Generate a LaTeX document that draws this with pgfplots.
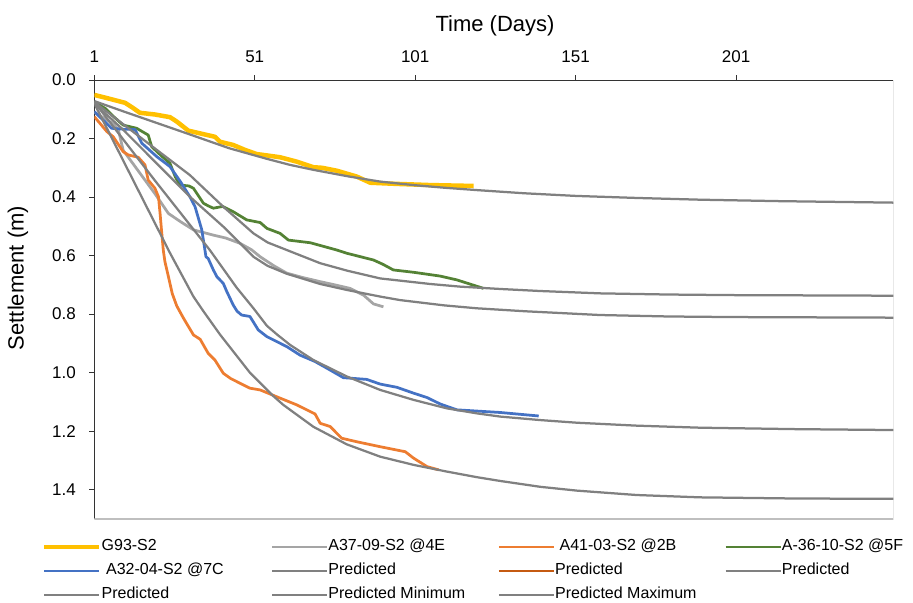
\documentclass[border=0pt]{standalone}
\usepackage{pgfplots}
\pgfplotsset{compat=1.18}
\usepackage{fontspec}
\setmainfont{Liberation Sans}
\definecolor{cYel}{HTML}{FFC000}
\definecolor{cLG}{HTML}{A5A5A5}
\definecolor{cOr}{HTML}{ED7D31}
\definecolor{cGr}{HTML}{548235}
\definecolor{cBl}{HTML}{4472C4}
\definecolor{cPr}{HTML}{808080}
\definecolor{cBr}{HTML}{C55A11}
\definecolor{cBord}{HTML}{BFBFBF}
\begin{document}
\begin{tikzpicture}
\path (0pt,0pt) rectangle (913pt,-600pt);
\begin{axis}[
  at={(94.3pt,-80pt)}, anchor=north west,
  scale only axis, width=799pt, height=439pt,
  xmin=1, xmax=250, ymin=0, ymax=1.5,
  y dir=reverse,
  axis x line*=top, axis y line*=left,
  axis line style={color=black!80, line width=1pt, -},
  xtick={1,51,101,151,201},
  ytick={0,0.2,0.4,0.6,0.8,1.0,1.2,1.4},
  tick label style={font=\fontsize{17}{20}\selectfont, color=black},
  xticklabel style={yshift=9pt},
  yticklabel style={xshift=-10pt, /pgf/number format/.cd, fixed, fixed zerofill, precision=1},
  /pgf/number format/assume math mode=true,
  tick align=outside, major tick length=5pt,
  tick style={color=black!80, line width=1pt},
  xlabel={Time (Days)}, ylabel={Settlement (m)},
  label style={font=\fontsize{22}{26}\selectfont},
  xlabel style={at={(axis description cs:0.5015,1.124)}, anchor=center},
  ylabel style={at={(axis description cs:-0.0955,0.549)}, anchor=center},
  legend columns=4,
  legend image code/.code={\draw[#1, line cap=butt] (0pt,0pt) -- (55pt,0pt);},
  legend style={draw=none, fill=none, at={(axis description cs:-0.0655,-0.045)}, anchor=north west,
    font=\fontsize{16}{19}\selectfont, inner xsep=0pt, inner ysep=0pt,
    nodes={inner sep=0pt, text height=12pt, text depth=4pt}, row sep=8pt,
    /tikz/every even column/.append style={column sep=7pt},
    /tikz/every odd column/.append style={column sep=0pt}},
  legend cell align=left,
  line join=round,
]
\draw[cBord, line width=1.2pt] (axis cs:250,0) -- (axis cs:250,1.5) -- (axis cs:1,1.5);
% G93-S2
\addplot[cYel, line width=4.5pt] coordinates {(1,0.051) (5,0.062) (10.6,0.078) (13,0.095) (15.2,0.112) (20,0.118) (24.6,0.127) (26.7,0.142) (30.3,0.173) (35,0.185) (38.6,0.194) (40.2,0.211) (44.3,0.222) (48,0.239) (51.6,0.253) (55,0.258) (58.9,0.264) (64.1,0.279) (69.3,0.298) (72,0.300) (76.6,0.310) (82.8,0.330) (87,0.351) (95.3,0.355) (105.7,0.359) (119.2,0.362)};
\addlegendentry{\makebox[162pt][l]{G93-S2}}
% A37
\addplot[cLG, line width=2.75pt] coordinates {(1,0.11) (4,0.13) (7,0.15) (8.5,0.17) (10,0.24) (12,0.27) (16,0.33) (20,0.39) (24.1,0.456) (28,0.485) (31.9,0.512) (38.1,0.530) (42,0.54) (46.4,0.558) (50,0.58) (52.7,0.604) (57,0.635) (61,0.660) (66,0.675) (71.4,0.689) (76,0.70) (80.7,0.712) (84.9,0.735) (88,0.765) (91.1,0.775)};
\addlegendentry{\makebox[162pt][l]{A37-09-S2 @4E}}
% A41
\addplot[cOr, line width=2.75pt] coordinates {(1,0.125) (4.9,0.176) (6.9,0.194) (10,0.245) (11.6,0.256) (14.7,0.264) (16.8,0.290) (17.8,0.342) (19.9,0.370) (21,0.399) (21.5,0.456) (22,0.52) (22.5,0.581) (23,0.62) (24.1,0.672) (25.3,0.73) (26.7,0.772) (28.8,0.814) (31.9,0.871) (34,0.886) (36.5,0.934) (38.6,0.957) (41.2,1.002) (43.5,1.02) (46.4,1.036) (49.5,1.053) (52.7,1.059) (58.9,1.087) (64.1,1.110) (69.8,1.141) (71.4,1.173) (74.5,1.184) (78.1,1.224) (82.8,1.236) (90.1,1.253) (97.9,1.270) (100.5,1.292) (104.7,1.321) (108.3,1.332)};
\addlegendentry{\makebox[162pt][l]{\hspace{4.5pt}A41-03-S2 @2B}}
% A-36
\addplot[cGr, line width=2.75pt] coordinates {(1,0.075) (4.4,0.097) (7,0.125) (10,0.154) (14.2,0.165) (17.8,0.188) (18.9,0.228) (22,0.26) (24.6,0.285) (26.2,0.33) (27.7,0.359) (30.5,0.362) (31.9,0.370) (35,0.421) (36.5,0.43) (38.1,0.438) (41,0.432) (44.3,0.450) (48.5,0.478) (52.7,0.487) (54.8,0.507) (58.9,0.524) (61.5,0.547) (68.3,0.556) (76.6,0.581) (79.7,0.592) (88,0.615) (91,0.63) (94.2,0.649) (100.5,0.657) (108.8,0.670) (114,0.683) (122.3,0.712)};
\addlegendentry{A-36-10-S2 @5F}
% A32
\addplot[cBl, line width=2.75pt] coordinates {(1,0.108) (6.4,0.165) (10,0.168) (13.7,0.169) (15.8,0.216) (20.5,0.262) (24.6,0.296) (28,0.35) (30.8,0.399) (32.4,0.433) (34.5,0.512) (35.8,0.604) (36.5,0.61) (38.1,0.649) (39.2,0.672) (41.2,0.695) (42.3,0.723) (44.3,0.769) (45.5,0.79) (46.9,0.803) (49.5,0.808) (52.1,0.854) (54.8,0.877) (61,0.911) (65.1,0.940) (69.8,0.962) (74.5,0.991) (78.6,1.017) (85.9,1.023) (90.1,1.039) (95.3,1.050) (100.5,1.070) (104.7,1.085) (108.8,1.107) (114,1.127) (127.5,1.136) (139.5,1.148)};
\addlegendentry{\makebox[162pt][l]{\hspace{4.5pt}A32-04-S2 @7C}}
% Predicted curves
\addplot[cPr, line width=2.25pt] coordinates {(1,0.072) (10,0.107) (20,0.145) (30,0.183) (43,0.233) (48.5,0.250) (55,0.270) (62,0.290) (69.3,0.307) (80,0.329) (90,0.347) (100.5,0.359) (110,0.368) (120,0.376) (135,0.387) (151,0.396) (170,0.403) (190,0.409) (215,0.414) (250,0.419)};
\addlegendentry{\makebox[162pt][l]{Predicted}}
\addlegendimage{cBr, line width=2.75pt}
\addlegendentry{\makebox[162pt][l]{Predicted}}
\addplot[cPr, line width=2.25pt] coordinates {(1,0.075) (10,0.151) (20.5,0.239) (30.8,0.325) (41.2,0.433) (50.6,0.524) (55,0.555) (61,0.581) (71.4,0.626) (80,0.652) (90.1,0.678) (100,0.690) (105.7,0.697) (115,0.706) (127.5,0.714) (140,0.721) (158.6,0.729) (180,0.733) (200,0.735) (250,0.737)};
\addlegendentry{Predicted}
\addplot[cPr, line width=2.25pt] coordinates {(1,0.08) (10,0.17) (20,0.28) (30.8,0.399) (41.2,0.501) (50.6,0.604) (55,0.635) (61,0.662) (71.4,0.697) (80,0.718) (90.1,0.740) (96.3,0.752) (110,0.770) (120.2,0.780) (135,0.790) (158.6,0.803) (180,0.808) (200,0.810) (250,0.812)};
\addlegendentry{\makebox[162pt][l]{Predicted}}
\addplot[cPr, line width=2.25pt] coordinates {(1,0.075) (20,0.345) (37,0.581) (45.4,0.710) (50.6,0.780) (54.8,0.840) (58,0.870) (62,0.905) (69.3,0.957) (79.7,1.013) (90.1,1.059) (100.5,1.093) (110.9,1.122) (120.2,1.139) (127.5,1.150) (140,1.162) (151.4,1.171) (170,1.181) (189.8,1.188) (220,1.193) (250,1.196)};
\addlegendentry{\makebox[162pt][l]{Predicted Minimum}}
\addplot[cPr, line width=2.25pt] coordinates {(1,0.08) (10,0.275) (21.5,0.524) (24.1,0.581) (31.9,0.740) (35,0.79) (40.2,0.870) (49.5,1.000) (56.8,1.08) (59.9,1.110) (69.3,1.185) (79.7,1.245) (90.1,1.287) (100.5,1.315) (110.9,1.338) (120.2,1.357) (127.5,1.370) (140,1.390) (151.4,1.403) (170,1.418) (189.8,1.426) (220,1.430) (250,1.431)};
\addlegendentry{\makebox[162pt][l]{Predicted Maximum}}
\end{axis}
\end{tikzpicture}
\end{document}
